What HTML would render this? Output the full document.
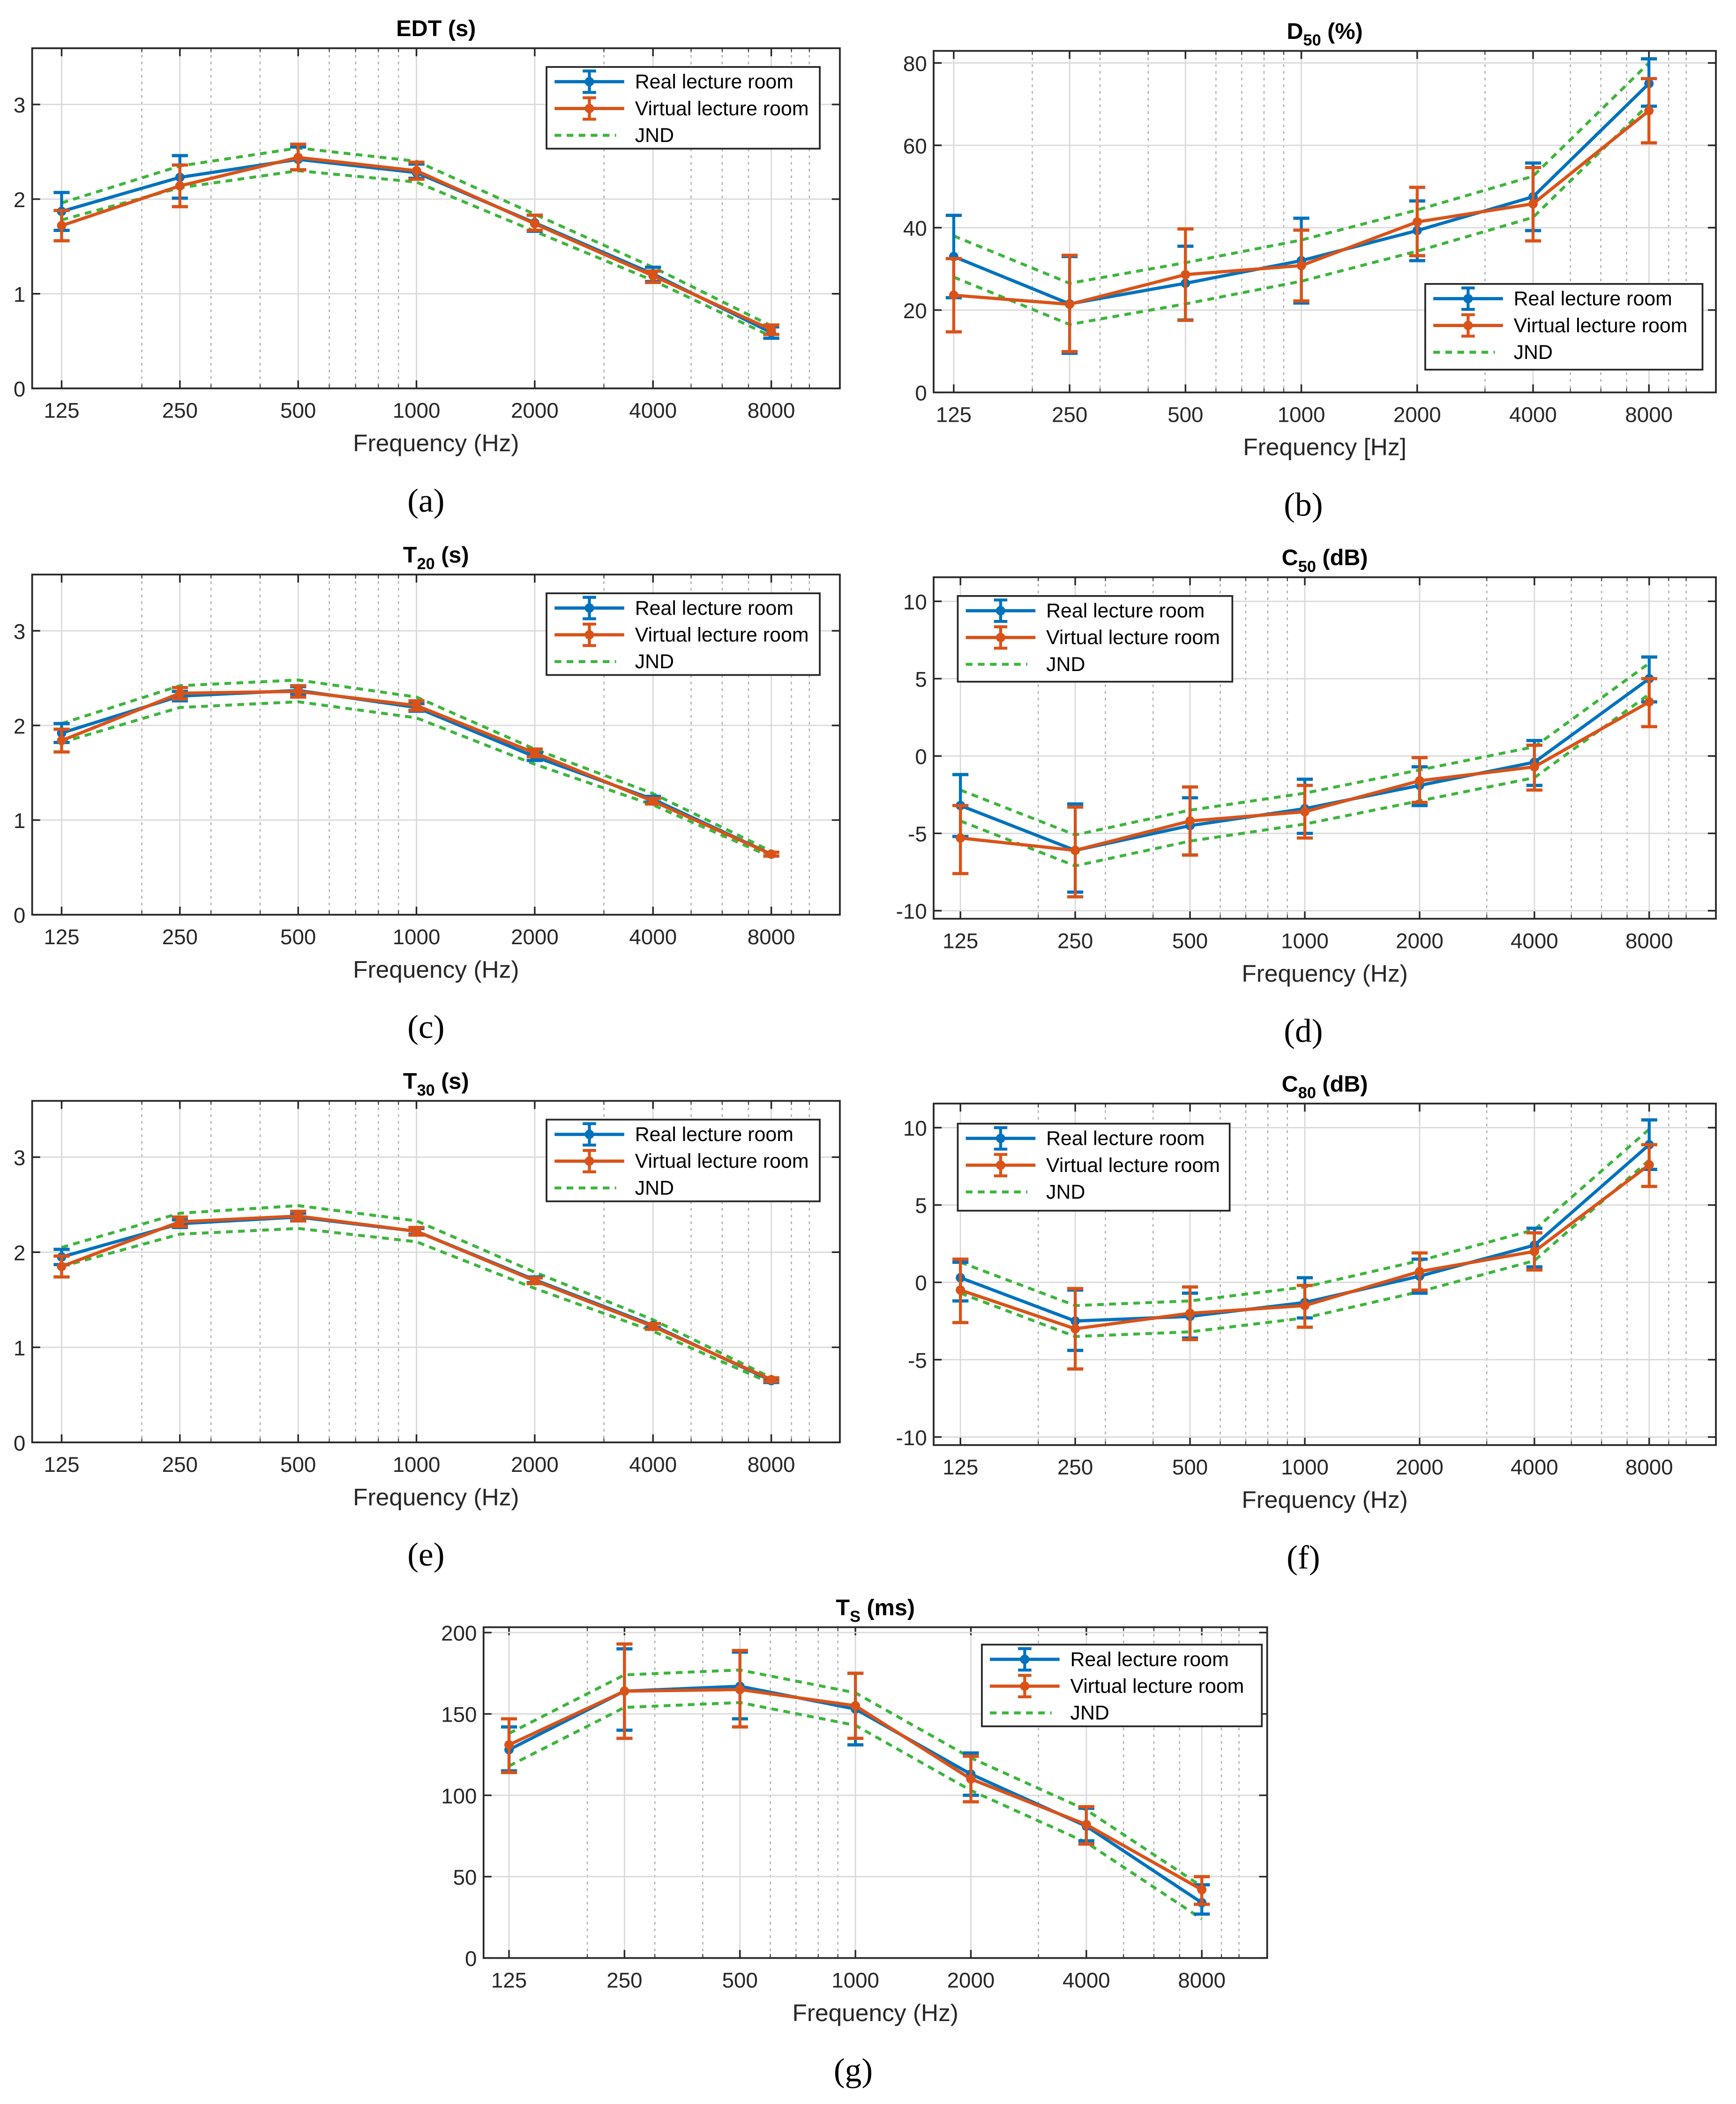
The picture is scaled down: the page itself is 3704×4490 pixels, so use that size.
<!DOCTYPE html>
<html><head><meta charset="utf-8">
<style>
html,body{margin:0;padding:0;background:#fff;}
svg{display:block;}
</style></head>
<body>
<svg id="fig" xmlns="http://www.w3.org/2000/svg" width="3704" height="4490" viewBox="0 0 1296 1571" font-family="Liberation Sans, sans-serif"></svg>
<script>
// ---------- data ----------
const freqs = [125, 250, 500, 1000, 2000, 4000, 8000];
const freqLabels = ["125","250","500","1000","2000","4000","8000"];

const edtReal = [1.87, 2.23, 2.42, 2.28, 1.75, 1.21, 0.59];
const edtRealLo = [1.67, 2.01, 2.31, 2.22, 1.66, 1.13, 0.53];
const edtRealHi = [2.07, 2.46, 2.55, 2.37, 1.83, 1.28, 0.65];
const edtVirt = [1.72, 2.14, 2.44, 2.30, 1.74, 1.19, 0.62];
const edtVirtLo = [1.56, 1.92, 2.31, 2.21, 1.67, 1.12, 0.57];
const edtVirtHi = [1.88, 2.36, 2.58, 2.39, 1.83, 1.24, 0.67];
const edtJndHi = [1.96, 2.35, 2.54, 2.40, 1.84, 1.28, 0.66];
const edtJndLo = [1.78, 2.12, 2.30, 2.18, 1.66, 1.14, 0.55];

const d50Real = [33, 21.5, 26.5, 32, 39.3, 47.5, 75];
const d50RealLo = [23, 9.5, 17.6, 21.7, 32, 39.3, 69.5];
const d50RealHi = [43, 33, 35.5, 42.3, 46.5, 55.7, 81];
const d50Virt = [23.6, 21.4, 28.6, 30.8, 41.4, 45.8, 68.4];
const d50VirtLo = [14.7, 9.9, 17.5, 22.2, 33.2, 36.8, 60.6];
const d50VirtHi = [32.5, 33.3, 39.7, 39.4, 49.8, 54.6, 76.2];
const d50JndHi = [38, 26.5, 31.5, 37, 44.3, 52.5, 80];
const d50JndLo = [28, 16.5, 21.5, 27, 34.3, 42.5, 70];

const t20Real = [1.92, 2.31, 2.37, 2.19, 1.67, 1.22, 0.64];
const t20RealLo = [1.82, 2.26, 2.33, 2.15, 1.63, 1.19, 0.62];
const t20RealHi = [2.02, 2.36, 2.41, 2.23, 1.71, 1.25, 0.66];
const t20Virt = [1.84, 2.34, 2.36, 2.21, 1.71, 1.20, 0.64];
const t20VirtLo = [1.72, 2.28, 2.30, 2.16, 1.67, 1.17, 0.62];
const t20VirtHi = [1.96, 2.40, 2.42, 2.26, 1.75, 1.23, 0.66];
const t20JndHi = [2.02, 2.42, 2.48, 2.30, 1.75, 1.28, 0.67];
const t20JndLo = [1.82, 2.19, 2.25, 2.08, 1.59, 1.16, 0.61];

const c50Real = [-3.2, -6.1, -4.5, -3.4, -1.9, -0.4, 5.0];
const c50RealLo = [-5.2, -8.8, -6.4, -5.0, -3.2, -1.9, 3.5];
const c50RealHi = [-1.2, -3.1, -2.7, -1.5, -0.7, 1.0, 6.4];
const c50Virt = [-5.3, -6.1, -4.2, -3.6, -1.6, -0.7, 3.5];
const c50VirtLo = [-7.6, -9.1, -6.4, -5.3, -3.0, -2.2, 1.9];
const c50VirtHi = [-3.2, -3.3, -2.0, -1.9, -0.1, 0.7, 5.0];
const c50JndHi = [-2.2, -5.1, -3.5, -2.4, -0.9, 0.6, 6.0];
const c50JndLo = [-4.2, -7.1, -5.5, -4.4, -2.9, -1.4, 4.0];

const t30Real = [1.95, 2.30, 2.37, 2.22, 1.71, 1.23, 0.65];
const t30RealLo = [1.87, 2.26, 2.33, 2.19, 1.68, 1.21, 0.63];
const t30RealHi = [2.03, 2.34, 2.41, 2.25, 1.74, 1.25, 0.67];
const t30Virt = [1.85, 2.32, 2.38, 2.22, 1.70, 1.22, 0.66];
const t30VirtLo = [1.74, 2.27, 2.33, 2.18, 1.67, 1.19, 0.64];
const t30VirtHi = [1.96, 2.37, 2.43, 2.26, 1.73, 1.25, 0.68];
const t30JndHi = [2.05, 2.41, 2.49, 2.33, 1.79, 1.29, 0.68];
const t30JndLo = [1.85, 2.19, 2.25, 2.11, 1.62, 1.17, 0.62];

const c80Real = [0.3, -2.5, -2.2, -1.3, 0.4, 2.4, 8.9];
const c80RealLo = [-1.2, -4.4, -3.6, -2.3, -0.7, 1.0, 7.3];
const c80RealHi = [1.3, -0.5, -0.7, 0.3, 1.5, 3.5, 10.5];
const c80Virt = [-0.5, -3.0, -2.0, -1.5, 0.7, 2.0, 7.6];
const c80VirtLo = [-2.6, -5.6, -3.7, -2.9, -0.5, 0.8, 6.2];
const c80VirtHi = [1.5, -0.4, -0.3, -0.2, 1.9, 3.2, 8.9];
const c80JndHi = [1.3, -1.5, -1.2, -0.3, 1.4, 3.4, 9.9];
const c80JndLo = [-0.7, -3.5, -3.2, -2.3, -0.6, 1.4, 7.9];

const tsReal = [128, 164, 167, 153, 113, 81, 34];
const tsRealLo = [115, 140, 147, 131, 100, 72, 27];
const tsRealHi = [142, 190, 188, 175, 126, 92, 45];
const tsVirt = [131, 164, 165, 155, 110, 82, 42];
const tsVirtLo = [114, 135, 142, 135, 96, 70, 33];
const tsVirtHi = [147, 193, 189, 175, 124, 93, 50];
const tsJndHi = [138, 174, 177, 163, 123, 91, 44];
const tsJndLo = [118, 154, 157, 143, 103, 71, 24];

const tick3 = [0,1,2,3];
const tick80 = [0,20,40,60,80];
const tick10 = [-10,-5,0,5,10];
const tick200 = [0,50,100,150,200];
const minorFreqs = [200,300,400,600,700,800,900,3000,5000,6000,7000,9000,10000];

// ---------- drawing ----------
const NS = "http://www.w3.org/2000/svg";
const svg = document.getElementById('fig');
const BLUE="#0072BD", ORANGE="#D95319", GREEN="#3DB53D";
function mk(tag, attrs, parent){
  const e=document.createElementNS(NS,tag);
  for(const k in attrs) e.setAttribute(k,attrs[k]);
  (parent||svg).appendChild(e); return e;
}

function panel(cfg){
  const g = mk('g',{});
  
  
  const {L,R,T,B,x125,oct,y0v,y0p,y1v,y1p} = cfg;
  const X = f => x125 + oct*Math.log2(f/125);
  const Y = v => y0p + (v-y0v)*(y1p-y0p)/(y1v-y0v);
  minorFreqs.forEach(f=>{ const x=X(f); if(x>L&&x<R){
    const l=mk('line',{x1:x,x2:x,y1:T,y2:B,stroke:"#b0b0b0","stroke-width":0.9,"stroke-dasharray":"2,3"},g);
     
    mk('line',{x1:x,x2:x,y1:B,y2:B-3,stroke:"#333","stroke-width":0.7},g);
    mk('line',{x1:x,x2:x,y1:T,y2:T+3,stroke:"#333","stroke-width":0.7},g);
  }});
  freqs.forEach((f,i)=>{ const x=X(f);
    mk('line',{x1:x,x2:x,y1:T,y2:B,stroke:"#dadada","stroke-width":1},g);
    mk('line',{x1:x,x2:x,y1:B,y2:B-6,stroke:"#262626","stroke-width":1.2},g);
    mk('line',{x1:x,x2:x,y1:T,y2:T+6,stroke:"#262626","stroke-width":1.2},g);
    const t=mk('text',{x:x,y:B+22,"font-size":16,"text-anchor":"middle",fill:"#262626"},g);
    t.textContent=freqLabels[i];
     
  });
  cfg.yticks.forEach(v=>{ const y=Y(v);
    mk('line',{x1:L,x2:R,y1:y,y2:y,stroke:"#dadada","stroke-width":1},g);
    mk('line',{x1:L,x2:L+6,y1:y,y2:y,stroke:"#262626","stroke-width":1.2},g);
    mk('line',{x1:R,x2:R-6,y1:y,y2:y,stroke:"#262626","stroke-width":1.2},g);
    const t=mk('text',{x:L-5,y:y+6,"font-size":16,"text-anchor":"end",fill:"#262626"},g);
    t.textContent=String(v);
     
  });
  [cfg.jhi,cfg.jlo].forEach(arr=>{
    const p=mk('polyline',{points:arr.map((v,i)=>X(freqs[i])+","+Y(v)).join(" "),fill:"none",stroke:GREEN,"stroke-width":2.2,"stroke-dasharray":"5,4"},g);
     
  });
  [[cfg.real,cfg.rlo,cfg.rhi,BLUE,'real-series'],[cfg.virt,cfg.vlo,cfg.vhi,ORANGE,'virtual-series']].forEach(s=>{
    const [vals,lo,hi,col,nm]=s;
    const sg=mk('g',{},g);
     
    vals.forEach((v,i)=>{ const x=X(freqs[i]);
      mk('line',{x1:x,x2:x,y1:Y(lo[i]),y2:Y(hi[i]),stroke:col,"stroke-width":2.2},sg);
      mk('line',{x1:x-6,x2:x+6,y1:Y(lo[i]),y2:Y(lo[i]),stroke:col,"stroke-width":2.4},sg);
      mk('line',{x1:x-6,x2:x+6,y1:Y(hi[i]),y2:Y(hi[i]),stroke:col,"stroke-width":2.4},sg);
    });
    mk('polyline',{points:vals.map((v,i)=>X(freqs[i])+","+Y(v)).join(" "),fill:"none",stroke:col,"stroke-width":2.4},sg);
    vals.forEach((v,i)=>{ const c=mk('circle',{cx:X(freqs[i]),cy:Y(v),r:3.5,fill:col},sg);
        });
  });
  mk('rect',{x:L,y:T,width:R-L,height:B-T,fill:"none",stroke:"#262626","stroke-width":1.3},g);
  const tt=mk('text',{x:(L+R)/2,y:T-9,"font-size":17,"font-weight":"bold","text-anchor":"middle",fill:"#000"},g);
   
  tt.innerHTML=cfg.title;
  const xl=mk('text',{x:(L+R)/2,y:B+47,"font-size":18,"text-anchor":"middle",fill:"#262626"},g);
  xl.textContent=cfg.xlabel;
   
  const cp=mk('text',{x:cfg.capX,y:B+92,"font-size":25,"text-anchor":"middle",fill:"#000",style:"font-family:'Liberation Serif',serif"},g);
  cp.textContent=cfg.caption;
   
  const [lx,ly,lw,lh]=cfg.leg;
  const lg=mk('g',{},g);
   
  mk('rect',{x:lx,y:ly,width:lw,height:lh,fill:"#fff",stroke:"#262626","stroke-width":1.3},lg);
  const rows=[[BLUE,"Real lecture room",0],[ORANGE,"Virtual lecture room",0],[GREEN,"JND",1]];
  rows.forEach((r,k)=>{ const y=ly+11+k*20; const x1=lx+6, x2=lx+58, xm=(x1+x2)/2;
    if(r[2]){ mk('line',{x1:x1,x2:x2-6,y1:y,y2:y,stroke:GREEN,"stroke-width":2.2,"stroke-dasharray":"5,4"},lg); }
    else{
      mk('line',{x1:x1,x2:x2,y1:y,y2:y,stroke:r[0],"stroke-width":2.4},lg);
      mk('line',{x1:xm,x2:xm,y1:y-8,y2:y+8,stroke:r[0],"stroke-width":2.2},lg);
      mk('line',{x1:xm-5,x2:xm+5,y1:y-8,y2:y-8,stroke:r[0],"stroke-width":2.2},lg);
      mk('line',{x1:xm-5,x2:xm+5,y1:y+8,y2:y+8,stroke:r[0],"stroke-width":2.2},lg);
      mk('circle',{cx:xm,cy:y,r:3.5,fill:r[0]},lg);
    }
    const t=mk('text',{x:lx+66,y:y+5,"font-size":15,fill:"#000"},lg);
    t.textContent=r[1];
     
  });
}

const LW=204;
panel({name:'edt-chart',L:24,R:627,T:36,B:290,x125:46,oct:88.3,y0v:0,y0p:290,y1v:3,y1p:78,yticks:tick3,
  real:edtReal,rlo:edtRealLo,rhi:edtRealHi,virt:edtVirt,vlo:edtVirtLo,vhi:edtVirtHi,jhi:edtJndHi,jlo:edtJndLo,
  title:'EDT (s)',xlabel:'Frequency (Hz)',caption:'(a)',capX:318,leg:[408,50,LW,61]});
panel({name:'d50-chart',L:697,R:1281,T:38,B:293,x125:712,oct:86.5,y0v:0,y0p:293,y1v:80,y1p:47,yticks:tick80,
  real:d50Real,rlo:d50RealLo,rhi:d50RealHi,virt:d50Virt,vlo:d50VirtLo,vhi:d50VirtHi,jhi:d50JndHi,jlo:d50JndLo,
  title:'D<tspan font-size="12" dy="5">50</tspan><tspan dy="-5"> (%)</tspan>',xlabel:'Frequency [Hz]',caption:'(b)',capX:973,leg:[1064,212,207,64]});
panel({name:'t20-chart',L:24,R:627,T:429,B:683,x125:46,oct:88.3,y0v:0,y0p:683,y1v:3,y1p:471,yticks:tick3,
  real:t20Real,rlo:t20RealLo,rhi:t20RealHi,virt:t20Virt,vlo:t20VirtLo,vhi:t20VirtHi,jhi:t20JndHi,jlo:t20JndLo,
  title:'T<tspan font-size="12" dy="5">20</tspan><tspan dy="-5"> (s)</tspan>',xlabel:'Frequency (Hz)',caption:'(c)',capX:318,leg:[408,443,LW,61]});
panel({name:'c50-chart',L:697,R:1281,T:431,B:686,x125:717,oct:85.7,y0v:-10,y0p:680,y1v:10,y1p:449,yticks:tick10,
  real:c50Real,rlo:c50RealLo,rhi:c50RealHi,virt:c50Virt,vlo:c50VirtLo,vhi:c50VirtHi,jhi:c50JndHi,jlo:c50JndLo,
  title:'C<tspan font-size="12" dy="5">50</tspan><tspan dy="-5"> (dB)</tspan>',xlabel:'Frequency (Hz)',caption:'(d)',capX:973,leg:[715,445,205,64]});
panel({name:'t30-chart',L:24,R:627,T:822,B:1077,x125:46,oct:88.3,y0v:0,y0p:1077,y1v:3,y1p:864,yticks:tick3,
  real:t30Real,rlo:t30RealLo,rhi:t30RealHi,virt:t30Virt,vlo:t30VirtLo,vhi:t30VirtHi,jhi:t30JndHi,jlo:t30JndLo,
  title:'T<tspan font-size="12" dy="5">30</tspan><tspan dy="-5"> (s)</tspan>',xlabel:'Frequency (Hz)',caption:'(e)',capX:318,leg:[408,836,LW,61]});
panel({name:'c80-chart',L:697,R:1281,T:824,B:1079,x125:717,oct:85.7,y0v:-10,y0p:1073,y1v:10,y1p:842,yticks:tick10,
  real:c80Real,rlo:c80RealLo,rhi:c80RealHi,virt:c80Virt,vlo:c80VirtLo,vhi:c80VirtHi,jhi:c80JndHi,jlo:c80JndLo,
  title:'C<tspan font-size="12" dy="5">80</tspan><tspan dy="-5"> (dB)</tspan>',xlabel:'Frequency (Hz)',caption:'(f)',capX:973,leg:[715,839,203,65]});
panel({name:'ts-chart',L:361,R:946,T:1215,B:1462,x125:380,oct:86.2,y0v:0,y0p:1462,y1v:200,y1p:1219,yticks:tick200,
  real:tsReal,rlo:tsRealLo,rhi:tsRealHi,virt:tsVirt,vlo:tsVirtLo,vhi:tsVirtHi,jhi:tsJndHi,jlo:tsJndLo,
  title:'T<tspan font-size="12" dy="5">S</tspan><tspan dy="-5"> (ms)</tspan>',xlabel:'Frequency (Hz)',caption:'(g)',capX:637,leg:[733,1228,209,61]});
</script>
</body></html>
